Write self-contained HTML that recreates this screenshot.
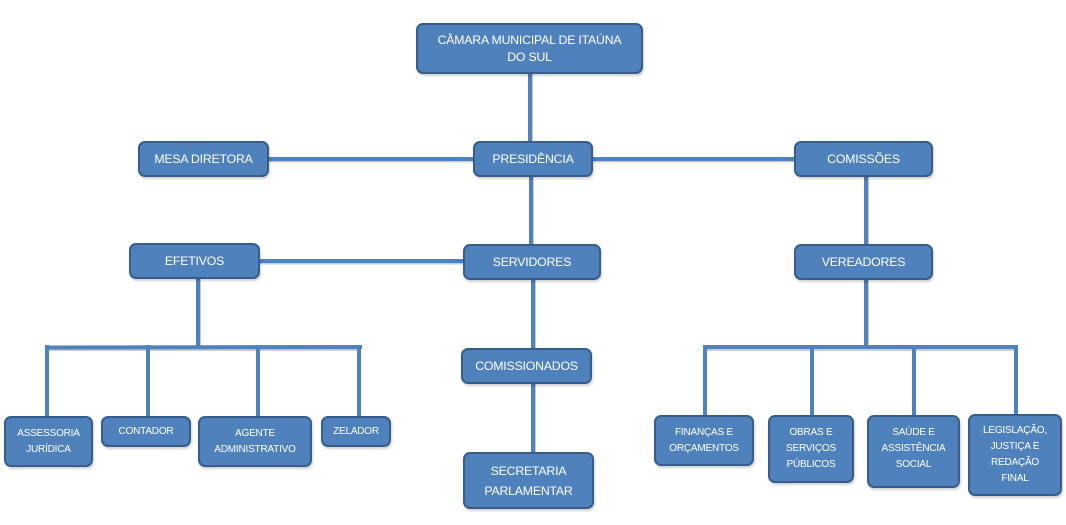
<!DOCTYPE html>
<html><head><meta charset="utf-8">
<style>
html,body{margin:0;padding:0;background:#fff;}
body{width:1066px;height:525px;position:relative;overflow:hidden;font-family:"Liberation Sans",Arial,sans-serif;}
.b{position:absolute;box-sizing:border-box;background:#4f81bd;border:2px solid #385d8a;border-radius:7px;color:#fff;display:flex;align-items:center;justify-content:center;text-align:center;box-shadow:1px 2px 2px rgba(0,0,0,0.18);}
.m{font-size:12.3px;line-height:17px;letter-spacing:-0.2px;}
.s{font-size:10px;line-height:16px;letter-spacing:-0.2px;}
svg{position:absolute;left:0;top:0;}
</style></head><body>
<svg width="1066" height="525">
<g stroke="#c8ccd2" stroke-width="2" fill="none">
<line x1="532" y1="74" x2="532" y2="141"/>
<line x1="269" y1="161.5" x2="473" y2="161.5"/>
<line x1="593" y1="161.5" x2="794" y2="161.5"/>
<line x1="533" y1="177" x2="533" y2="244"/>
<line x1="260" y1="263.5" x2="463" y2="263.5"/>
<line x1="868" y1="177" x2="868" y2="244"/>
<line x1="535" y1="280" x2="535" y2="348"/>
<line x1="535" y1="384" x2="535" y2="452"/>
<line x1="200" y1="279" x2="200" y2="347"/>
<line x1="46" y1="350" x2="361" y2="350"/>
<line x1="868" y1="280" x2="868" y2="347"/>
<line x1="704" y1="350" x2="1018" y2="350"/>
</g>
<g stroke="#4f81bd" stroke-width="4" fill="none" stroke-linecap="square">
<line x1="530" y1="74" x2="530" y2="141"/>
<line x1="269" y1="159" x2="473" y2="159"/>
<line x1="593" y1="159" x2="794" y2="159"/>
<line x1="531" y1="177" x2="531" y2="244"/>
<line x1="260" y1="261" x2="463" y2="261"/>
<line x1="866" y1="177" x2="866" y2="244"/>
<line x1="533" y1="280" x2="533" y2="348"/>
<line x1="533" y1="384" x2="533" y2="452"/>
<line x1="198" y1="279" x2="198" y2="347"/>
<line x1="47" y1="347.5" x2="360" y2="347"/>
<line x1="47" y1="347" x2="47" y2="416"/>
<line x1="148" y1="347" x2="148" y2="416"/>
<line x1="258" y1="347" x2="258" y2="416"/>
<line x1="359" y1="347" x2="359" y2="416"/>
<line x1="866" y1="280" x2="866" y2="347"/>
<line x1="705" y1="347" x2="1016" y2="347"/>
<line x1="705" y1="347" x2="705" y2="415"/>
<line x1="812" y1="347" x2="812" y2="415"/>
<line x1="914" y1="347" x2="914" y2="415"/>
<line x1="1016" y1="347" x2="1016" y2="414"/>
</g>
</svg>

<div class="b m" style="left:416px;top:23px;width:227px;height:51px;">CÂMARA MUNICIPAL DE ITAÚNA<br>DO SUL</div>
<div class="b m" style="left:138px;top:141px;width:131px;height:36px;">MESA DIRETORA</div>
<div class="b m" style="left:473px;top:141px;width:120px;height:36px;">PRESIDÊNCIA</div>
<div class="b m" style="left:794px;top:141px;width:139px;height:36px;">COMISSÕES</div>
<div class="b m" style="left:129px;top:243px;width:131px;height:36px;">EFETIVOS</div>
<div class="b m" style="left:463px;top:244px;width:138px;height:36px;">SERVIDORES</div>
<div class="b m" style="left:794px;top:244px;width:139px;height:36px;">VEREADORES</div>
<div class="b m" style="left:461px;top:348px;width:131px;height:36px;">COMISSIONADOS</div>
<div class="b m" style="left:463px;top:452px;width:131px;height:57px;line-height:20px;">SECRETARIA<br>PARLAMENTAR</div>

<div class="b s" style="left:4px;top:416px;width:89px;height:51px;">ASSESSORIA<br>JURÍDICA</div>
<div class="b s" style="left:101px;top:416px;width:90px;height:31px;">CONTADOR</div>
<div class="b s" style="left:198px;top:416px;width:114px;height:51px;">AGENTE<br>ADMINISTRATIVO</div>
<div class="b s" style="left:321px;top:416px;width:70px;height:31px;">ZELADOR</div>

<div class="b s" style="left:654px;top:415px;width:100px;height:51px;">FINANÇAS E<br>ORÇAMENTOS</div>
<div class="b s" style="left:768px;top:415px;width:86px;height:68px;">OBRAS E<br>SERVIÇOS<br>PÚBLICOS</div>
<div class="b s" style="left:867px;top:415px;width:93px;height:73px;padding-bottom:6px;">SAÚDE E<br>ASSISTÊNCIA<br>SOCIAL</div>
<div class="b s" style="left:968px;top:414px;width:94px;height:82px;">LEGISLAÇÃO,<br>JUSTIÇA E<br>REDAÇÃO<br>FINAL</div>
</body></html>
